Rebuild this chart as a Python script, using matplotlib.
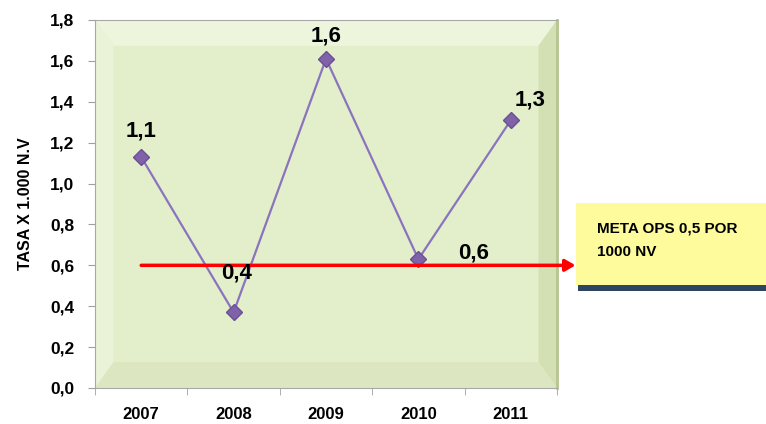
import numpy as np
import matplotlib.pyplot as plt
from matplotlib.patches import Polygon, Rectangle

# data
years = ["2007", "2008", "2009", "2010", "2011"]
tasa = [1.13, 0.37, 1.61, 0.63, 1.31]
labels = ["1,1", "0,4", "1,6", "0,6", "1,3"]
meta = 0.6
meta_text = "META OPS 0,5 POR\n1000 NV"

plt.rcParams['font.family'] = ['Liberation Sans', 'DejaVu Sans']
plt.rcParams['font.weight'] = 'bold'

fig = plt.figure(figsize=(7.66, 4.24), dpi=100)
ax = fig.add_axes([95/766, 36/424, 462/766, 368/424])

# bevelled green plot area
ax.set_facecolor("#E3EECA")
b = 0.04
by = 0.07
bevels = [
    ([(0, 1), (1, 1), (1 - b, 1 - by), (b, 1 - by)], "#EEF5DD"),   # top
    ([(0, 0), (0, 1), (b, 1 - by), (b, by)], "#EAF2D7"),           # left
    ([(1, 0), (1, 1), (1 - b, 1 - by), (1 - b, by)], "#D3E0B4"),   # right
    ([(0, 0), (1, 0), (1 - b, by), (b, by)], "#DCE7C1"),           # bottom
]
for pts, col in bevels:
    ax.add_patch(Polygon(pts, closed=True, transform=ax.transAxes,
                         facecolor=col, edgecolor="none", zorder=0))

x = np.arange(len(years))
ax.plot(x, tasa, color="#8A74BE", lw=1.6, marker="D", ms=8,
        markerfacecolor="#7F62A8", markeredgecolor="#6B4F96", zorder=3)

offsets = [(0, 11), (2, 21), (0, 9), (40, -3), (14, 7)]
for xi, yi, lab, off in zip(x, tasa, labels, offsets):
    ax.annotate(lab, (xi, yi), xytext=off, textcoords="offset points",
                ha="center", va="bottom", fontsize=16, fontweight="bold",
                color="black", zorder=5)

# meta arrow
ax.annotate("", xy=(4.73, meta), xytext=(-0.03, meta),
            arrowprops=dict(arrowstyle="-|>,head_length=0.6,head_width=0.35",
                            color="#FF0000", lw=2.5),
            annotation_clip=False, zorder=4)

ax.set_xlim(-0.5, 4.5)
ax.set_ylim(0, 1.8)
ax.set_xticks(x)
ax.set_xticklabels(years)
ax.set_xticks(np.arange(-0.5, 5, 1), minor=True)
ax.tick_params(axis="x", which="major", length=0, pad=14, labelsize=12)
ax.tick_params(axis="x", which="minor", length=5, color="#A0A0A0")
ax.set_yticks(np.arange(0, 1.81, 0.2))
ax.set_yticklabels([f"{v:.1f}".replace(".", ",") for v in np.arange(0, 1.81, 0.2)])
ax.tick_params(axis="y", length=5, color="#A0A0A0", labelsize=12.5, pad=10)
for lab in ax.get_xticklabels() + ax.get_yticklabels():
    lab.set_fontweight("bold")
ax.set_ylabel("TASA X 1.000 N.V", fontsize=11.5, fontweight="bold", labelpad=12)

for s in ax.spines.values():
    s.set_color("#A8A8A8")
ax.spines["right"].set_color("#B5C491")
ax.spines["right"].set_linewidth(2)

# yellow note box
fig.patches.append(Rectangle((578/766, (424 - 291)/424), 188/766, 6/424,
                             transform=fig.transFigure, facecolor="#2E4562",
                             edgecolor="none"))
fig.patches.append(Rectangle((576/766, (424 - 285)/424), 190/766, 82/424,
                             transform=fig.transFigure, facecolor="#FDFB9C",
                             edgecolor="none"))
fig.text(597/766, (424 - 240)/424, meta_text, fontsize=11, fontweight="bold",
         va="center", ha="left", linespacing=1.9)

fig.savefig("out.png", dpi=100)
